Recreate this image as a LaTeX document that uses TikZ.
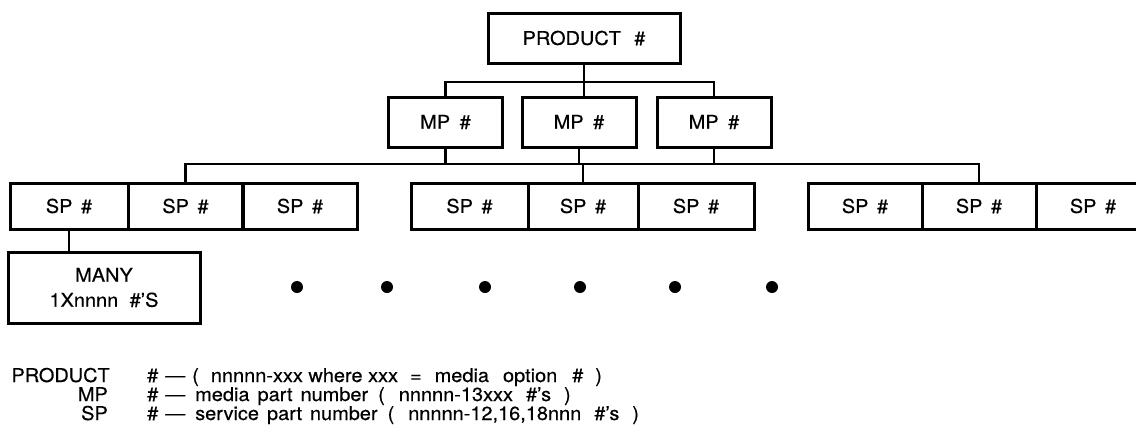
\documentclass[tikz,border=0pt]{standalone}
\usepackage{fontspec}
\setmainfont[FakeStretch=1.05,FakeBold=0.4]{TeX Gyre Heros}
\newcommand{\legspace}{\spaceskip=8pt plus 1pt\relax}
\newcommand{\hs}[1]{\hspace{#1pt}}
\begin{document}
\begin{tikzpicture}[x=1pt,y=-1pt,
  every node/.style={font=\fontsize{19}{25}\selectfont},
  box/.style={draw,line width=3pt,inner sep=0pt,align=center},
  prodbox/.style={box,minimum width=192pt,minimum height=50pt},
  mpbox/.style={box,minimum width=114pt,minimum height=50pt},
  spbox/.style={box,minimum width=115pt,minimum height=46pt},
  wire/.style={line width=2.6pt},
  dot/.style={circle,fill=black,inner sep=0pt,minimum size=12pt},
  lab/.style={anchor=base east,inner sep=0pt},
  txt/.style={anchor=base west,inner sep=0pt}]
\useasboundingbox (0,0) rectangle (1136,437);
% top
\node[prodbox] (prod) at (584,38) {PRODUCT\hspace{0.7em}\#};
\node[mpbox] (mp1) at (445.5,122) {MP\hspace{0.5em}\#};
\node[mpbox] (mp2) at (579,122) {MP\hspace{0.5em}\#};
\node[mpbox] (mp3) at (714,122) {MP\hspace{0.5em}\#};
\coordinate (b1) at (0,82);
\coordinate (b2) at (0,164);
\draw[wire] (prod.south) -- (prod.south |- mp2.north);
\draw[wire] (mp1.north) -- (mp1.north |- b1) -- (mp3.north |- b1) -- (mp3.north);
% SP groups
\node[spbox,minimum width=118pt] (s1) at (69,206) {SP\hspace{0.45em}\#};
\node[spbox] (s2) at (185.5,206) {SP\hspace{0.45em}\#};
\node[spbox] (s3) at (300,206) {SP\hspace{0.45em}\#};
\node[spbox,minimum width=117pt] (s4) at (469.5,206) {SP\hspace{0.45em}\#};
\node[spbox,minimum width=110pt] (s5) at (583,206) {SP\hspace{0.45em}\#};
\node[spbox,minimum width=116pt] (s6) at (696,206) {SP\hspace{0.45em}\#};
\node[spbox,minimum width=114pt] (s7) at (865,206) {SP\hspace{0.45em}\#};
\node[spbox,minimum width=114pt] (s8) at (979,206) {SP\hspace{0.45em}\#};
\node[spbox,minimum width=114pt] (s9) at (1093,206) {SP\hspace{0.45em}\#};
\draw[wire] (s2.north) -- (s2.north |- b2) -- (s8.north |- b2) -- (s8.north);
\draw[wire] (s5.north) -- (s5.north |- b2);
\draw[wire] (mp1.south) -- (mp1.south |- b2);
\draw[wire] (mp2.south) -- (mp2.south |- b2);
\draw[wire] (mp3.south) -- (mp3.south |- b2);
% many box
\node[box,minimum width=192pt,minimum height=71pt] (many) at (104,287.5) {MANY\\1Xnnnn\hspace{0.6em}\#’S};
\draw[wire] (s1.south) -- (s1.south |- many.north);
% dots
\node[dot] (d1) at (297,287) {};
\node[dot] (d2) at (387,287) {};
\node[dot] (d3) at (485,287) {};
\node[dot] (d4) at (580,287) {};
\node[dot] (d5) at (675,287) {};
\node[dot] (d6) at (772,287) {};
% legend
\node[lab] (l1) at (110,382) {PRODUCT};
\node[lab] (l2) at (108,401) {MP};
\node[lab] (l3) at (108,420) {SP};
\node[txt] (t1) at (147,382) {\#\hs{7}—\hs{7}(\hs{12}nnnnn-xxx where xxx\hs{12}=\hs{13}media\hs{14}option\hs{15}\#\hs{12})};
\node[txt] (t2) at (147,401) {\legspace\#\hs{7}—\hs{10}media part number\hs{10}(\hs{14}nnnnn-13xxx\hs{13}\#’s\hs{13})};
\node[txt] (t3) at (147,420) {\legspace\#\hs{7}—\hs{10}service part number\hs{10}(\hs{14}nnnnn-12,16,18nnn\hs{13}\#’s\hs{13})};
\end{tikzpicture}
\end{document}
